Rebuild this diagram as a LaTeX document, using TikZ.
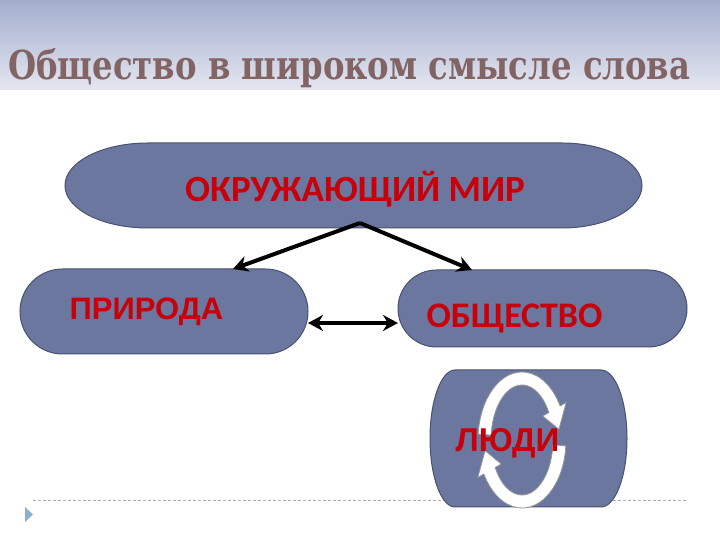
\documentclass[tikz,border=0pt]{standalone}
\usepackage{fontspec}
\setmainfont{Liberation Serif}
\newfontfamily\titlefont{DejaVu Serif}
\newfontfamily\carlito{Carlito}
\newfontfamily\arialf{Liberation Sans}
\usetikzlibrary{arrows.meta,shapes.misc}
\definecolor{shapefill}{RGB}{107,119,158}
\definecolor{shapeedge}{RGB}{72,82,112}
\definecolor{txtred}{RGB}{200,0,10}
\definecolor{titlecol}{RGB}{130,100,100}
\definecolor{bandtop}{RGB}{163,174,206}
\definecolor{bandbot}{RGB}{228,230,240}
\definecolor{ringedge}{RGB}{150,150,150}
\definecolor{dashcol}{RGB}{175,175,175}
\definecolor{markcol}{RGB}{140,175,210}
\begin{document}
\begin{tikzpicture}[x=1pt,y=1pt,
  blob/.style={fill=shapefill,draw=shapeedge,line width=1pt},
  pill/.style={blob,rounded rectangle,inner sep=0pt,outer sep=0pt},
  conn/.style={line width=4pt,-{Stealth[length=15pt,width=16pt]}},
  dconn/.style={line width=4pt,{Stealth[length=15pt,width=16pt]}-{Stealth[length=15pt,width=16pt]}},
  lbl/.style={text=txtred,inner sep=0pt,anchor=base},
  ring/.style={fill=white,draw=ringedge,line width=0.8pt}]
\useasboundingbox (0,0) rectangle (720,540);
\fill[white] (0,0) rectangle (720,540);
\shade[top color=bandtop,bottom color=bandbot] (0,450) rectangle (720,540);
\node[anchor=base west,inner sep=0pt,text=titlecol] (title) at (8,460)
  {\resizebox{682pt}{31pt}{\titlefont\bfseries Общество в широком смысле слова}};
% bottom rule and marker
\draw[dashcol,dash pattern=on 3pt off 2pt,line width=0.8pt] (33,40) -- (687,40);
\fill[markcol] (25,33) -- (33,25.5) -- (25,18) -- cycle;
% top shape
\path[blob] (148,397) -- (562,397)
  arc[start angle=90,end angle=-90,x radius=80pt,y radius=42.5pt] -- (148,312)
  arc[start angle=270,end angle=90,x radius=83pt,y radius=42.5pt] -- cycle;
\coordinate (apex) at (360,317);
% pills
\node[pill,minimum width=288pt,minimum height=85pt] (priroda) at (164,228.5) {};
\node[pill,minimum width=289pt,minimum height=77pt] (obs) at (542.5,231.5) {};
% people shape
\path[blob] (455,170) -- (601,170)
  arc[start angle=90,end angle=-90,x radius=26pt,y radius=68.5pt] -- (455,33)
  arc[start angle=270,end angle=90,x radius=25pt,y radius=68.5pt] -- cycle;
% connectors
\draw[conn] (apex) -- ([xshift=69pt]priroda.north);
\draw[conn] (apex) -- ([xshift=-70.5pt]obs.north);
\draw[dconn] ([yshift=-11.5pt]priroda.east) -- ([yshift=-14.5pt]obs.west);
% circular arrows
\begin{scope}[shift={(522,100)}]
\path[ring] (175:44pt and 68pt) arc[start angle=175,end angle=30,x radius=44pt,y radius=68pt]
  -- (30:51pt and 75pt) -- (10:37.5pt and 61.5pt) -- (30:24pt and 48pt) -- (30:31pt and 55pt)
  arc[start angle=30,end angle=175,x radius=31pt,y radius=55pt] -- cycle;
\path[ring,rotate=180] (175:44pt and 68pt) arc[start angle=175,end angle=30,x radius=44pt,y radius=68pt]
  -- (30:51pt and 75pt) -- (10:37.5pt and 61.5pt) -- (30:24pt and 48pt) -- (30:31pt and 55pt)
  arc[start angle=30,end angle=175,x radius=31pt,y radius=55pt] -- cycle;
\end{scope}
% labels
\node[lbl,font=\carlito\bfseries\fontsize{37}{39}\selectfont] (mir) at (355,338) {ОКРУЖАЮЩИЙ МИР};
\node[lbl,font=\arialf\bfseries\fontsize{31}{33}\selectfont] (prirodaT) at (146.5,220) {ПРИРОДА};
\node[lbl,font=\carlito\bfseries\fontsize{36}{38}\selectfont] (obsT) at (514.5,212) {ОБЩЕСТВО};
\node[lbl,font=\arialf\bfseries\fontsize{33}{35}\selectfont] (lyudi) at (507.5,88) {ЛЮДИ};
\end{tikzpicture}
\end{document}
